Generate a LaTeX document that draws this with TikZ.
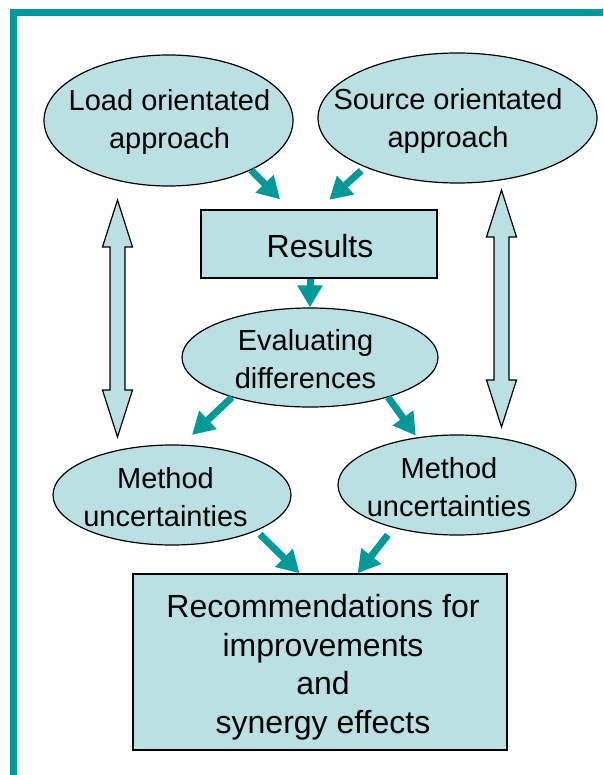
\documentclass[tikz,border=0pt]{standalone}
\usepackage{fontspec}
\setmainfont{Liberation Sans}
\usepackage{tikz}
\usetikzlibrary{shapes.geometric}
\usetikzlibrary{arrows.meta}
\definecolor{flowteal}{RGB}{0,153,153}
\definecolor{paleblue}{RGB}{187,224,227}
\newcommand{\bubble}[8]{\node[bubble, minimum width=#4pt, minimum height=#5pt] (#1) at ( #2 , #3 ) {}; \node[bubbletext] (#1text) at ( #6 , #7 ) {#8};}
\newcommand{\panel}[8]{\node[panel, minimum width=#4pt, minimum height=#5pt] (#1) at ( #2 , #3 ) {}; \node[paneltext] (#1text) at ( #6 , #7 ) {#8};}
\newcommand{\twoway}[3]{\filldraw[twoway] ( #1 , #2 ) -- ( {#1+15} , {#2+47} ) -- ( {#1+7.5} , {#2+47} ) -- ( {#1+7.5} , {#3-47} ) -- ( {#1+15} , {#3-47} ) -- ( #1 , #3 ) -- ( {#1-15} , {#3-47} ) -- ( {#1-7.5} , {#3-47} ) -- ( {#1-7.5} , {#2+47} ) -- ( {#1-15} , {#2+47} ) -- cycle;}
\tikzset{
  bubble/.style={ellipse, draw=black, line width=1.2pt, fill=paleblue, inner sep=0pt},
  bubbletext/.style={align=center, inner sep=0pt, font=\fontsize{29}{38}\selectfont},
  panel/.style={rectangle, draw=black, line width=1.4pt, fill=paleblue},
  paneltext/.style={align=center, inner sep=0pt, font=\fontsize{32}{38.5}\selectfont},
  twoway/.style={draw=black, line width=1.2pt, fill=paleblue, line join=miter},
  flow/.style={draw=flowteal, line width=7pt, -{Triangle[length=22pt,width=24pt]}},
  frame/.style={draw=flowteal, line width=7pt}
}

\begin{document}
\begin{tikzpicture}[x=1pt, y=-1pt]
\useasboundingbox ( 0 , 0 ) rectangle ( 603 , 775 );
% frame
\draw[frame] ( 603 , 13 ) -- ( 13.5 , 13 ) -- ( 13.5 , 775 );
% top row of ellipses
\bubble{load}{168.5}{120.5}{249}{131}{169.5}{122.5}{Load orientated\\approach}
\bubble{source}{457.5}{118}{279}{130}{448}{121}{Source orientated\\approach}
% middle
\panel{results}{319}{244}{236}{68}{320}{246}{Results}
\bubble{eval}{310}{357.5}{256}{99}{305.5}{359.5}{Evaluating\\differences}
% row of uncertainties
\bubble{mleft}{172}{495}{238}{100}{165.5}{497}{Method\\uncertainties}
\bubble{mright}{457}{485}{238}{100}{449}{487}{Method\\uncertainties}
% bottom box
\panel{recs}{320}{662}{374}{176}{323}{667}{Recommendations for\\improvements\\and\\synergy effects}
% two way arrows
\twoway{117.5}{200}{437}
\twoway{501.5}{190}{427}
% flow arrows
\draw[flow, shorten >=14pt] (load.-31) -- (results.130);
\draw[flow, shorten <=5pt, shorten >=14pt] (source.-152) -- (results.north);
\draw[flow] (results.south -| eval.north) -- (eval.north);
\draw[flow, shorten >=14pt] (eval.207) -- (mleft.79);
\draw[flow, shorten >=2pt] (eval.-27) -- (mright.130);
\draw[flow, shorten <=5pt] (mleft.-23) -- (recs.103);
\draw[flow, shorten <=9pt] (mright.214) -- (recs.67);
\end{tikzpicture}
\end{document}
